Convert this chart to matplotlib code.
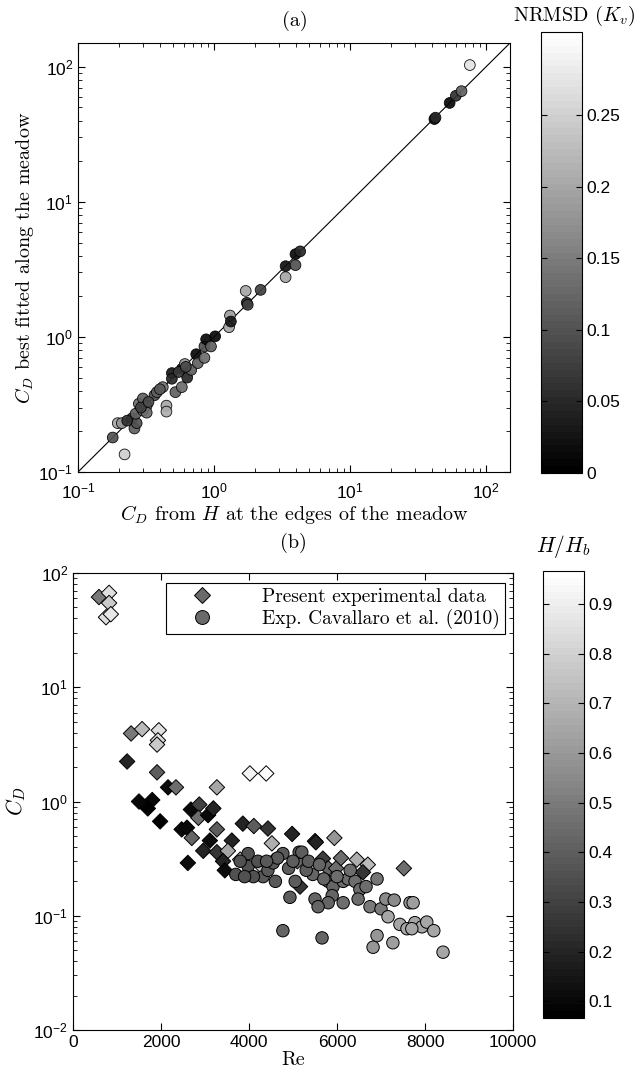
import numpy as np
import matplotlib
matplotlib.use("Agg")
import matplotlib.pyplot as plt
from matplotlib.colors import Normalize
from matplotlib.cm import ScalarMappable
from matplotlib.ticker import LogLocator, NullFormatter, FixedLocator
from matplotlib.lines import Line2D

plt.rcParams['mathtext.fontset'] = 'custom'
plt.rcParams['mathtext.rm'] = 'Liberation Sans'
plt.rcParams['mathtext.it'] = 'Liberation Sans:italic'
plt.rcParams['mathtext.bf'] = 'Liberation Sans:bold'
plt.rcParams['font.family'] = ['Liberation Sans', 'DejaVu Sans']
plt.rcParams['axes.unicode_minus'] = False

# ---------------- panel (a) data ----------------
cd_edges = [0.196, 0.21, 0.18, 0.22, 0.26, 0.25, 0.27, 0.265, 0.28, 0.30, 0.30, 0.32, 0.32,
            0.365, 0.38, 0.42, 0.447, 0.447, 0.49, 0.49, 0.52, 0.58, 0.58, 0.61, 0.635, 0.68,
            0.74, 0.76, 0.85, 0.85, 0.875, 0.95, 1.02, 1.29, 1.31, 1.33, 1.71, 1.74, 1.77, 2.2,
            3.36, 3.36, 3.97, 3.97, 4.3, 41.7, 42.5, 54, 60, 66, 76,
            0.23, 0.29, 0.33, 0.40, 0.55, 0.62]
cd_fitted = [0.23, 0.23, 0.18, 0.135, 0.21, 0.25, 0.23, 0.27, 0.32, 0.285, 0.35, 0.31, 0.275,
             0.37, 0.39, 0.425, 0.31, 0.28, 0.54, 0.49, 0.39, 0.425, 0.58, 0.63, 0.50, 0.57,
             0.745, 0.64, 0.70, 0.85, 0.96, 0.85, 1.01, 1.18, 1.44, 1.30, 2.19, 1.79, 1.73, 2.23,
             2.77, 3.34, 3.4, 4.1, 4.3, 41, 42, 54, 61, 66, 103,
             0.24, 0.30, 0.33, 0.41, 0.55, 0.60]
nrmsd = [0.20, 0.18, 0.10, 0.25, 0.12, 0.08, 0.10, 0.12, 0.13, 0.14, 0.12, 0.15, 0.13,
         0.10, 0.12, 0.14, 0.20, 0.21, 0.03, 0.05, 0.12, 0.13, 0.02, 0.18, 0.05, 0.12,
         0.01, 0.12, 0.13, 0.10, 0.01, 0.12, 0.01, 0.20, 0.19, 0.03, 0.20, 0.05, 0.08, 0.08,
         0.20, 0.02, 0.10, 0.01, 0.05, 0.01, 0.05, 0.01, 0.06, 0.12, 0.27,
         0.06, 0.08, 0.09, 0.11, 0.07, 0.09]
diag_line = [0.1, 150]

# ---------------- panel (b) data ----------------
re_present = [590, 820, 820, 750, 860, 1320, 1570, 1950, 1930, 1910, 1230, 1910, 2160, 2340,
              3270, 4020, 4390, 1800, 1700, 1980, 2680, 2870, 2850, 3070, 3190, 2470, 2590,
              2700, 3270, 3110, 2960, 3270, 3610, 3520, 3410, 3450, 2610, 3860, 4110, 4430,
              4520, 4980, 5500, 4250, 5160, 5520, 5940, 5680, 5800, 5980, 6090, 6450, 6700,
              6590, 7520, 1500, 4550, 5100, 3800]
cd_present = [61.6, 67, 54.6, 41, 43.6, 3.94, 4.3, 4.2, 3.43, 3.15, 2.24, 1.80, 1.33, 1.33,
              1.33, 1.76, 1.76, 1.03, 0.87, 0.67, 0.85, 0.94, 0.72, 0.76, 0.87, 0.57, 0.59,
              0.48, 0.57, 0.455, 0.37, 0.36, 0.455, 0.37, 0.30, 0.25, 0.29, 0.64, 0.61, 0.58,
              0.43, 0.52, 0.45, 0.28, 0.18, 0.44, 0.48, 0.316, 0.26, 0.26, 0.32, 0.31, 0.28,
              0.24, 0.26, 1.0, 0.30, 0.30, 0.31]
hhb_present = [0.5, 0.85, 0.78, 0.85, 0.88, 0.5, 0.72, 0.85, 0.85, 0.78, 0.2, 0.4, 0.12, 0.45,
               0.65, 0.92, 0.96, 0.1, 0.08, 0.08, 0.1, 0.3, 0.45, 0.1, 0.2, 0.1, 0.1,
               0.42, 0.4, 0.12, 0.2, 0.25, 0.2, 0.65, 0.2, 0.12, 0.12, 0.2, 0.4, 0.25,
               0.68, 0.2, 0.25, 0.75, 0.25, 0.2, 0.6, 0.28, 0.42, 0.45, 0.45, 0.68, 0.72,
               0.25, 0.45, 0.1, 0.6, 0.45, 0.7]

re_cavallaro = [3700, 3980, 3980, 4320, 4430, 4550, 4770, 5140, 4900, 4930, 4770, 5200, 5450,
                5800, 5910, 5890, 5800, 5500, 5570, 6140, 6250, 6410, 6520, 6480, 6660, 6910,
                6140, 6750, 7000, 7110, 7300, 7660, 7730, 7160, 7430, 7590, 7770, 7930, 8040,
                8200, 7700, 6910, 6820, 7270, 8410, 5660,
                4100, 4200, 4600, 4650, 5000, 5050, 5300, 5350, 5600, 5700, 6000, 6300, 3800,
                3900, 4400]
cd_cavallaro = [0.23, 0.35, 0.27, 0.22, 0.25, 0.29, 0.35, 0.36, 0.26, 0.145, 0.074, 0.36, 0.23,
                0.20, 0.18, 0.15, 0.13, 0.14, 0.12, 0.20, 0.21, 0.20, 0.17, 0.14, 0.18, 0.21,
                0.13, 0.12, 0.115, 0.14, 0.137, 0.13, 0.13, 0.098, 0.084, 0.077, 0.087, 0.08,
                0.088, 0.074, 0.077, 0.067, 0.053, 0.058, 0.048, 0.064,
                0.22, 0.30, 0.20, 0.32, 0.30, 0.20, 0.25, 0.30, 0.28, 0.21, 0.22, 0.25, 0.30,
                0.22, 0.30]
hhb_cavallaro = [0.35, 0.35, 0.35, 0.38, 0.38, 0.38, 0.38, 0.38, 0.40, 0.40, 0.42, 0.40, 0.42,
                 0.42, 0.42, 0.42, 0.42, 0.42, 0.42, 0.45, 0.45, 0.45, 0.45, 0.45, 0.45, 0.48,
                 0.45, 0.50, 0.50, 0.55, 0.55, 0.60, 0.62, 0.65, 0.65, 0.65, 0.65, 0.65, 0.65,
                 0.65, 0.65, 0.60, 0.60, 0.62, 0.65, 0.42,
                 0.36, 0.36, 0.38, 0.38, 0.40, 0.40, 0.40, 0.40, 0.42, 0.42, 0.45, 0.45, 0.35,
                 0.35, 0.38]

legend_labels = ['Present experimental data', 'Exp. Cavallaro et al. (2010)']

# ---------------- figure ----------------
W, H = 636, 1082
fig = plt.figure(figsize=(W / 100, H / 100), dpi=100)

def rect(x0, y0, x1, y1):
    return [x0 / W, 1 - y1 / H, (x1 - x0) / W, (y1 - y0) / H]

cmap = plt.get_cmap('gray', 64)
serif = 'cmr10'
lab_fs = 14.5
tick_fs = 12.5

# ---- panel (a)
axa = fig.add_axes(rect(78, 43, 510, 472))
norm_a = Normalize(0, 0.308)
axa.plot(diag_line, diag_line, color='black', lw=0.8, zorder=1)
axa.scatter(cd_edges, cd_fitted, c=nrmsd, cmap=cmap, norm=norm_a, s=60,
            edgecolors='black', linewidths=0.6, alpha=0.92, zorder=2)
axa.set_xscale('log')
axa.set_yscale('log')
axa.set_xlim(0.1, 150)
axa.set_ylim(0.1, 150)
for ax_ in (axa.xaxis, axa.yaxis):
    ax_.set_minor_locator(LogLocator(base=10, subs=np.arange(2, 10)))
    ax_.set_minor_formatter(NullFormatter())
axa.tick_params(which='both', direction='in', top=True, right=True, labelsize=tick_fs)
axa.tick_params(which='major', length=5)
axa.tick_params(which='minor', length=3)
axa.tick_params(axis='x', which='major', pad=7)
axa.set_xlabel(r'$C_D$ from $H$ at the edges of the meadow', family=serif,
               fontsize=lab_fs, math_fontfamily='cm', labelpad=1)
axa.set_ylabel(r'$C_D$ best fitted along the meadow', family=serif,
               fontsize=lab_fs, math_fontfamily='cm', labelpad=2)
fig.text(295 / W, 1 - 21 / H, '(a)', family=serif, fontsize=lab_fs, ha='center', va='center')

caxa = fig.add_axes(rect(541, 32, 582, 473))
cba = fig.colorbar(ScalarMappable(norm=norm_a, cmap=cmap), cax=caxa)
cba.set_ticks([0, 0.05, 0.1, 0.15, 0.2, 0.25])
cba.set_ticklabels(['0', '0.05', '0.1', '0.15', '0.2', '0.25'])
caxa.tick_params(direction='in', left=True, right=True, length=4, labelsize=tick_fs)
cba.outline.set_linewidth(0.8)
fig.text(513 / W, 1 - 16 / H, r'NRMSD $(K_v)$', family=serif, fontsize=lab_fs,
         ha='left', va='center', math_fontfamily='cm')

# ---- panel (b)
axb = fig.add_axes(rect(73, 573, 513, 1030))
norm_b = Normalize(0.066, 0.967)
axb.scatter(re_present, cd_present, c=hhb_present, cmap=cmap, norm=norm_b, marker='D',
            s=62, edgecolors='black', linewidths=0.7, zorder=2)
axb.scatter(re_cavallaro, cd_cavallaro, c=hhb_cavallaro, cmap=cmap, norm=norm_b,
            marker='o', s=80, edgecolors='black', linewidths=0.7, zorder=3)
axb.set_yscale('log')
axb.set_xlim(0, 10000)
axb.set_ylim(0.01, 100)
axb.xaxis.set_major_locator(FixedLocator([0, 2000, 4000, 6000, 8000, 10000]))
axb.yaxis.set_minor_locator(LogLocator(base=10, subs=np.arange(2, 10)))
axb.yaxis.set_minor_formatter(NullFormatter())
axb.tick_params(which='both', direction='in', top=True, right=True, labelsize=tick_fs)
axb.tick_params(which='major', length=5)
axb.tick_params(which='minor', length=3)
axb.set_xlabel('Re', family=serif, fontsize=lab_fs, labelpad=1)
axb.set_ylabel(r'$C_D$', fontsize=lab_fs + 1, math_fontfamily='cm', labelpad=4)
fig.text(293 / W, 1 - 543 / H, '(b)', family=serif, fontsize=lab_fs, ha='center', va='center')

h1 = Line2D([], [], marker='D', ls='none', markersize=8.5, markerfacecolor='#6a6a6a',
            markeredgecolor='black', markeredgewidth=0.7)
h2 = Line2D([], [], marker='o', ls='none', markersize=10, markerfacecolor='#6a6a6a',
            markeredgecolor='black', markeredgewidth=0.7)
leg = axb.legend([h1, h2], legend_labels, loc='upper right',
                 bbox_to_anchor=(505 / W, 1 - 583 / H), bbox_transform=fig.transFigure,
                 prop={'family': serif, 'size': 14}, frameon=True, fancybox=False,
                 edgecolor='black', framealpha=1, borderaxespad=0, handletextpad=1.5,
                 borderpad=0.25, labelspacing=0.15, handlelength=3.2)
leg.get_frame().set_linewidth(0.8)

caxb = fig.add_axes(rect(543, 571, 584, 1018))
cbb = fig.colorbar(ScalarMappable(norm=norm_b, cmap=cmap), cax=caxb)
cbb.set_ticks([0.1, 0.2, 0.3, 0.4, 0.5, 0.6, 0.7, 0.8, 0.9])
caxb.tick_params(direction='in', left=True, right=True, length=4, labelsize=tick_fs)
cbb.outline.set_linewidth(0.8)
fig.text(563 / W, 1 - 546 / H, r'$H/H_b$', fontsize=lab_fs + 1, ha='center', va='center',
         math_fontfamily='cm')

fig.savefig('out.png', dpi=100)
